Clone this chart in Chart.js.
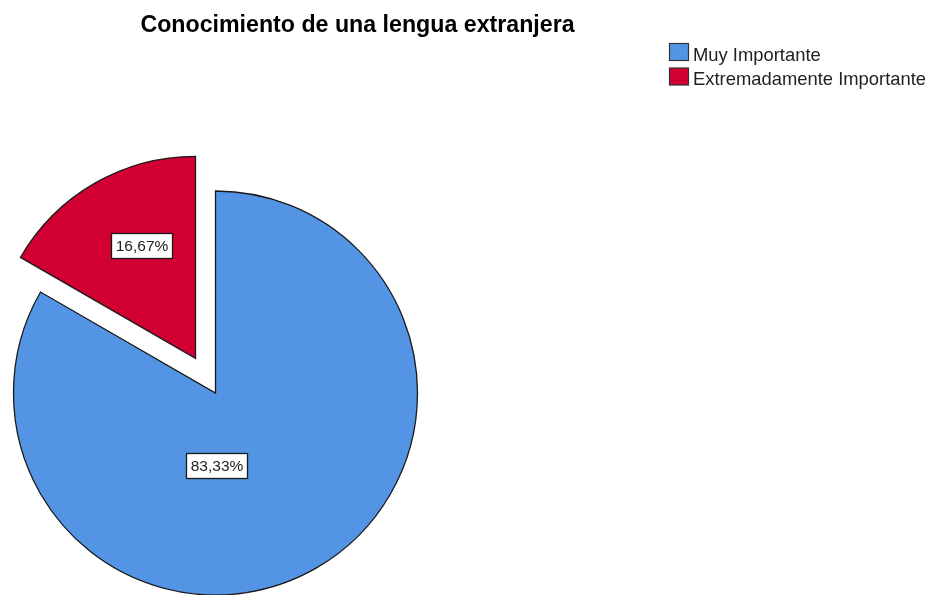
<!DOCTYPE html>
<html>
<head>
<meta charset="utf-8">
<script src="https://cdn.jsdelivr.net/npm/chart.js@4/dist/chart.umd.min.js"></script>
<style>
  html, body { margin: 0; padding: 0; background: #ffffff; }
  #wrap { width: 936px; height: 595px; position: relative; }
</style>
</head>
<body>
<div id="wrap"><canvas id="c" width="936" height="595"></canvas></div>
<script>
// ---- data ----
const chartTitle = 'Conocimiento de una lengua extranjera';
const categories = ['Muy Importante', 'Extremadamente Importante'];
const percentages = [83.33, 16.67];
const colors = ['#5395E4', '#D20032'];

const FONT = '"Liberation Sans", Arial, sans-serif';

function fmtPct(v, total) {
  return (v / total * 100).toFixed(2).replace('.', ',') + '%';
}

const explodePlugin = {
  id: 'explode',
  beforeDatasetDraw(chart, args, opts) {
    const meta = args.meta;
    const ctx = chart.ctx;
    meta.data.forEach((arc, i) => {
      const d = (opts.distances && opts.distances[i]) || 0;
      const mid = (arc.startAngle + arc.endAngle) / 2;
      ctx.save();
      ctx.translate(Math.cos(mid) * d, Math.sin(mid) * d);
      arc.draw(ctx);
      ctx.restore();
    });
    return false;
  }
};

const decorPlugin = {
  id: 'decor',
  afterDraw(chart, args, opts) {
    const ctx = chart.ctx;
    const meta = chart.getDatasetMeta(0);
    const values = chart.data.datasets[0].data;
    const total = values.reduce((a, b) => a + b, 0);
    const dist = chart.options.plugins.explode.distances;

    // title
    ctx.save();
    ctx.fillStyle = '#000';
    ctx.font = 'bold 23.2px ' + FONT;
    ctx.textAlign = 'center';
    ctx.textBaseline = 'alphabetic';
    ctx.fillText(chartTitle, 357.5, 31.5);
    ctx.restore();

    // slice labels
    meta.data.forEach((arc, i) => {
      const mid = (arc.startAngle + arc.endAngle) / 2;
      const d = dist[i] || 0;
      const r = arc.outerRadius;
      const cx = arc.x + Math.cos(mid) * d + opts.labelPos[i][0] * r;
      const cy = arc.y + Math.sin(mid) * d + opts.labelPos[i][1] * r;
      const txt = fmtPct(values[i], total);
      ctx.save();
      ctx.font = '15.5px ' + FONT;
      const w = Math.round(ctx.measureText(txt).width + 8);
      const h = 25;
      const x0 = Math.round(cx - w / 2) + 0.5;
      const y0 = Math.round(cy - h / 2) + 0.5;
      ctx.fillStyle = '#ffffff';
      ctx.fillRect(x0, y0, w, h);
      ctx.strokeStyle = '#1a1a1a';
      ctx.lineWidth = 1.3;
      ctx.strokeRect(x0, y0, w, h);
      ctx.fillStyle = '#222';
      ctx.textAlign = 'center';
      ctx.textBaseline = 'middle';
      ctx.fillText(txt, x0 + w / 2, y0 + h / 2 + 1);
      ctx.restore();
    });

    // legend
    categories.forEach((cat, i) => {
      const y = 43 + i * 24.5;
      ctx.save();
      ctx.fillStyle = colors[i];
      ctx.fillRect(669.5, y + 0.5, 19, 17);
      ctx.strokeStyle = '#333';
      ctx.lineWidth = 1.2;
      ctx.strokeRect(669.5, y + 0.5, 19, 17);
      ctx.fillStyle = '#222';
      ctx.font = '18.4px ' + FONT;
      ctx.textAlign = 'left';
      ctx.textBaseline = 'alphabetic';
      ctx.fillText(cat, 693, y + 17.5);
      ctx.restore();
    });
  }
};

new Chart(document.getElementById('c'), {
  type: 'pie',
  data: {
    labels: categories,
    datasets: [{
      data: percentages,
      backgroundColor: colors,
      borderColor: '#1a1a1a',
      borderWidth: 1.3,
      borderJoinStyle: 'miter',
      offset: 0
    }]
  },
  options: {
    responsive: false,
    animation: false,
    radius: 202,
    rotation: 0,
    layout: { padding: { left: 0, right: 505, top: 191, bottom: 0 } },
    plugins: {
      legend: { display: false },
      title: { display: false },
      tooltip: { enabled: false },
      explode: { distances: [0, 40] },
      decor: { labelPos: [[0.005, 0.357], [-0.267, -0.559]] }
    }
  },
  plugins: [explodePlugin, decorPlugin]
});
</script>
</body>
</html>
